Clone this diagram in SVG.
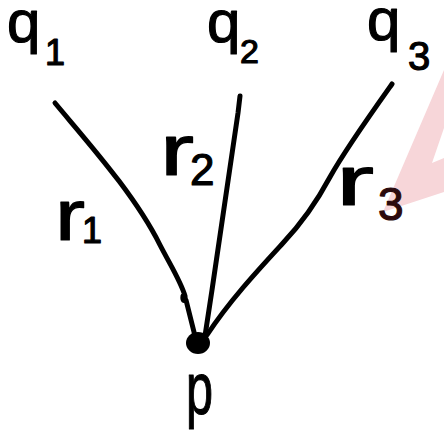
<svg xmlns="http://www.w3.org/2000/svg" width="444" height="439" viewBox="0 0 444 439">
<style>
.lbl{font-family:"Liberation Sans",Arial,sans-serif;fill:#000;stroke:#000;stroke-width:1.2;stroke-linejoin:round}
.edge{fill:none;stroke:#000;stroke-width:5;stroke-linecap:round;stroke-linejoin:round}
</style>
<rect width="444" height="439" fill="#fff"/>
<polygon points="383,212 444,70 444,128 432,163 444,158 444,192" fill="#f7d6d9"/>
<g id="connectors">
<path class="edge" d="M55,103 C90,145 135,195 160,245 C172,268 181,282 185,296 C186,302 182,302 183,296 M186,300 L195,336"/>
<path class="edge" d="M240,96 L238,113 C233,150 222,220 212,290 L205,336"/>
<path class="edge" d="M392,84 C370,115 345,150 330,177 C315,205 300,225 283,243 C260,268 230,300 207,335"/>
<g id="r1"><text class="lbl" x="55" y="240" font-size="72" textLength="30" lengthAdjust="spacingAndGlyphs">r</text><text class="lbl" x="82" y="243" font-size="36">1</text></g>
<g id="r2"><text class="lbl" x="160" y="175" font-size="72" textLength="34" lengthAdjust="spacingAndGlyphs">r</text><text class="lbl" x="190" y="185" font-size="44">2</text></g>
<g id="r3"><text class="lbl" x="336" y="205" font-size="70" textLength="38" lengthAdjust="spacingAndGlyphs">r</text><text class="lbl" x="378" y="220" font-size="46" style="fill:#2b0a0d;stroke:#2b0a0d">3</text></g>
</g>
<g id="q1"><text class="lbl" x="7" y="42" font-size="60">q</text><text class="lbl" x="45" y="65" font-size="36">1</text></g>
<g id="q2"><text class="lbl" x="207" y="42" font-size="60">q</text><text class="lbl" x="240" y="63" font-size="34">2</text></g>
<g id="q3"><text class="lbl" x="367" y="40" font-size="60">q</text><text class="lbl" x="408" y="70" font-size="40">3</text></g>
<g id="p"><ellipse cx="198" cy="343" rx="12" ry="11" fill="#000"/><text class="lbl" x="186" y="414" font-size="74" textLength="27" lengthAdjust="spacingAndGlyphs">p</text></g>
</svg>
